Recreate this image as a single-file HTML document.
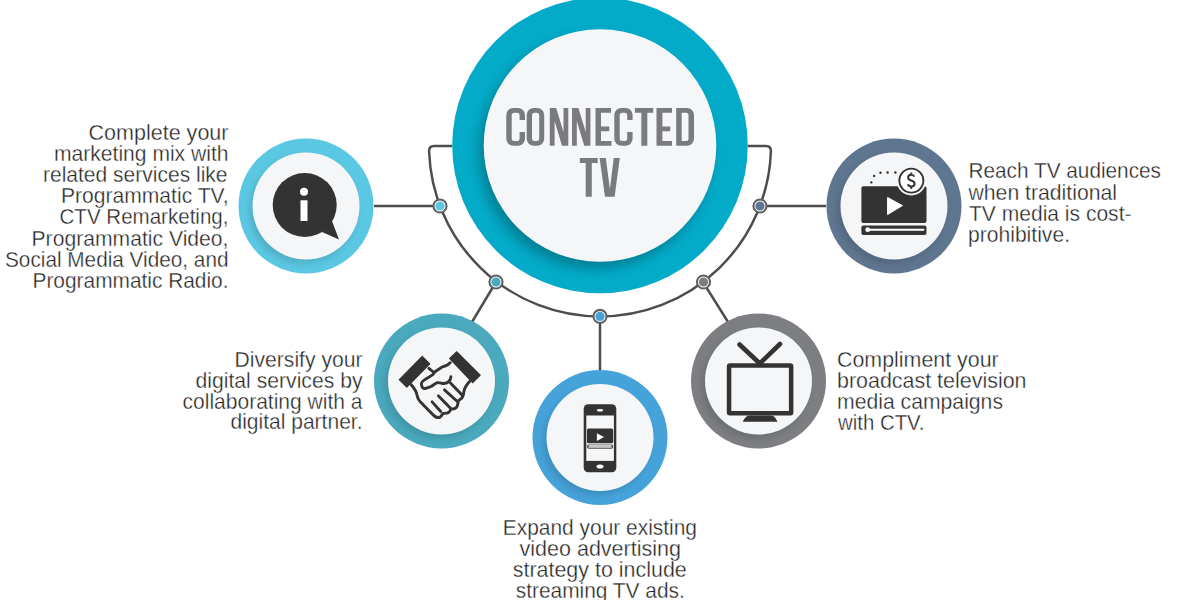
<!DOCTYPE html>
<html><head><meta charset="utf-8">
<style>
html,body{margin:0;padding:0;background:#fff;width:1200px;height:600px;overflow:hidden}
svg{display:block}
.t{font-family:"Liberation Sans",sans-serif;font-size:21.8px;fill:#222;stroke:#fff;stroke-width:0.35px;paint-order:normal}
.h{font-family:"Liberation Sans",sans-serif;font-weight:bold;fill:#7b7c80}
</style></head>
<body>
<svg width="1200" height="600" viewBox="0 0 1200 600">
<defs>
<filter id="sh" x="-30%" y="-30%" width="160%" height="160%">
<feGaussianBlur stdDeviation="3.5"/>
</filter>
<filter id="sh2" x="-30%" y="-30%" width="160%" height="160%">
<feGaussianBlur stdDeviation="6"/>
</filter>
<linearGradient id="pg" x1="0" y1="0" x2="0" y2="1"><stop offset="0" stop-color="#d8d8d8"/><stop offset="1" stop-color="#aaa"/></linearGradient>
</defs>

<!-- connector lines -->
<g fill="none" stroke="#4d4d4f" stroke-width="2.5">
<path d="M452,146 H434 Q429.1,146 429.09,151 A171,171 0 0 0 770.91,151 Q770.9,146 766,146 H748"/>
<line x1="374" y1="206" x2="440" y2="206"/>
<line x1="760" y1="206" x2="826" y2="206"/>
<line x1="496" y1="282" x2="472" y2="322"/>
<line x1="703" y1="282" x2="728" y2="322"/>
<line x1="600" y1="316" x2="600" y2="370"/>
</g>

<!-- central circle -->
<circle cx="600" cy="145.5" r="147.8" fill="#03abc8"/>
<circle cx="595" cy="152.5" r="116.3" fill="#000" opacity="0.25" filter="url(#sh2)"/>
<circle cx="600" cy="145.5" r="116.3" fill="#f5f6f8"/>
<g fill="#7a7b7f" fill-rule="evenodd">
<!-- C -->
<path d="M525,120 V114.9 A7,7 0 0 0 518,107.9 H513.25 A7,7 0 0 0 506.25,114.9 V138.8 A7,7 0 0 0 513.25,145.8 H518 A7,7 0 0 0 525,138.8 V132 H519.6 V138.5 A2.5,2.5 0 0 1 517.1,141 H514.2 A2.5,2.5 0 0 1 511.7,138.5 V115.2 A2.5,2.5 0 0 1 514.2,112.7 H517.1 A2.5,2.5 0 0 1 519.6,115.2 V120 Z"/>
<!-- O -->
<path d="M533.7,107.9 H537.2 A7,7 0 0 1 544.2,114.9 V138.8 A7,7 0 0 1 537.2,145.8 H533.7 A7,7 0 0 1 526.7,138.8 V114.9 A7,7 0 0 1 533.7,107.9 Z M534.5,112.7 A2.5,2.5 0 0 0 532,115.2 V138.5 A2.5,2.5 0 0 0 534.5,141 H536.7 A2.5,2.5 0 0 0 539.2,138.5 V115.2 A2.5,2.5 0 0 0 536.7,112.7 Z"/>
<!-- N -->
<path d="M549.8,107.9 H556.2 L563.5,132 V107.9 H568.3 V145.8 H562 L554.6,121 V145.8 H549.8 Z"/>
<path d="M572,107.9 H578.4 L585.7,132 V107.9 H590.4 V145.8 H584.2 L576.8,121 V145.8 H572 Z"/>
<!-- E -->
<path d="M595.5,107.9 H611.1 V112.8 H601 V126.6 H609.25 V131.2 H601 V141.1 H611.5 V145.8 H595.5 Z"/>
<!-- C -->
<path d="M632.6,120 V114.9 A7,7 0 0 0 625.6,107.9 H621.3 A7,7 0 0 0 614.3,114.9 V138.8 A7,7 0 0 0 621.3,145.8 H625.6 A7,7 0 0 0 632.6,138.8 V132 H627.2 V138.5 A2.5,2.5 0 0 1 624.7,141 H622.2 A2.5,2.5 0 0 1 619.7,138.5 V115.2 A2.5,2.5 0 0 1 622.2,112.7 H624.7 A2.5,2.5 0 0 1 627.2,115.2 V120 Z"/>
<!-- T -->
<path d="M634.9,107.9 H653.2 V112.8 H647.3 V145.8 H641.3 V112.8 H634.9 Z"/>
<!-- E -->
<path d="M656.5,107.9 H672 V112.8 H662.4 V126.6 H670.2 V131.2 H662.4 V141.1 H672 V145.8 H656.5 Z"/>
<!-- D -->
<path d="M676.2,107.9 H687 A7,7 0 0 1 694,114.9 V138.8 A7,7 0 0 1 687,145.8 H676.2 Z M681.7,112.8 V141 H686 A2.5,2.5 0 0 0 688.5,138.5 V115.3 A2.5,2.5 0 0 0 686,112.8 Z"/>
<!-- T -->
<path d="M579.8,157.9 H597.7 V162.9 H591.8 V196.7 H585.7 V162.9 H579.8 Z"/>
<!-- V -->
<path d="M599.6,157.9 H605.8 L609.9,189 L613.75,157.9 H619.8 L614.6,196.7 H605 Z"/>
</g>

<!-- icon circles -->
<g>
<circle cx="306" cy="206" r="67.5" fill="#5bc8e3"/>
<circle cx="303" cy="210" r="53.5" fill="#000" opacity="0.13" filter="url(#sh)"/>
<circle cx="306" cy="206" r="53.5" fill="#f5f6f8"/>

<circle cx="441.5" cy="381" r="67.5" fill="#4aa9bd"/>
<circle cx="438.5" cy="385" r="53.5" fill="#000" opacity="0.13" filter="url(#sh)"/>
<circle cx="441.5" cy="381" r="53.5" fill="#f5f6f8"/>

<circle cx="600" cy="437.5" r="67.5" fill="#46a3da"/>
<circle cx="597" cy="441.5" r="53.5" fill="#000" opacity="0.13" filter="url(#sh)"/>
<circle cx="600" cy="437.5" r="53.5" fill="#f5f6f8"/>

<circle cx="758.5" cy="381" r="67.5" fill="#7d7e82"/>
<circle cx="755.5" cy="385" r="53.5" fill="#000" opacity="0.13" filter="url(#sh)"/>
<circle cx="758.5" cy="381" r="53.5" fill="#f5f6f8"/>

<circle cx="894" cy="206" r="67.5" fill="#5f7690"/>
<circle cx="891" cy="210" r="53.5" fill="#000" opacity="0.13" filter="url(#sh)"/>
<circle cx="894" cy="206" r="53.5" fill="#f5f6f8"/>
</g>

<!-- nodes -->
<g stroke="#5f6063" stroke-width="2.1" fill="#fff">
<circle cx="440" cy="206" r="6.55"/>
<circle cx="496" cy="282" r="6.55"/>
<circle cx="600" cy="316.4" r="6.55"/>
<circle cx="703.5" cy="282" r="6.55"/>
<circle cx="760" cy="206" r="6.55"/>
</g>
<circle cx="440" cy="206" r="4.6" fill="#5bc8e3"/>
<circle cx="496" cy="282" r="4.6" fill="#4aa9bd"/>
<circle cx="600" cy="316.4" r="4.6" fill="#46a3da"/>
<circle cx="703.5" cy="282" r="4.6" fill="#7d7e82"/>
<circle cx="760" cy="206" r="4.6" fill="#5f7690"/>

<!-- info icon -->
<g fill="#333">
<circle cx="304.7" cy="205" r="32"/>
<path d="M322,232 L339,239.5 L332,221 Z"/>
</g>
<circle cx="304" cy="191.7" r="4" fill="#fff"/>
<rect x="300.5" y="200.3" width="7" height="20.7" fill="#fff"/>

<!-- handshake icon placeholder -->
<g id="hand">
<path d="M399.3,379.7 L422.25,356.3 L429.75,363.8 L406.8,387.2 Z" fill="#333" stroke="#333" stroke-width="1.2" stroke-linejoin="round"/>
<path d="M449.75,358.5 L456.8,351.8 L480.2,375.2 L472.7,382.7 Z" fill="#333" stroke="#333" stroke-width="1.2" stroke-linejoin="round"/>
<g fill="none" stroke="#333" stroke-width="2.9" stroke-linecap="round" stroke-linejoin="round">
<path d="M411,384.5 C414,388 416.5,391 417,395 C417.5,398 418,399.5 420,401.5 L432.5,414.2 C435,417 437,418 439.2,417.6 C441,417 442,414.5 443,413.5 C445,413.3 447,413.5 448.5,412.5 C450,411.5 450.5,410 451,409 C453,409.2 455.5,409 457,406.5 C458,404.5 458.2,402 458.4,400.7 C460,399.5 461.5,399 462.5,397 C463.5,395 463.8,393 464,391 C464.5,388.5 465.5,386 469.5,381.5"/>
<path d="M428.9,368.4 L433,371.75"/>
<path d="M450.2,362.7 C448.5,364 447.5,365 446,365.6 C444,366.5 442.5,366.7 441,367.7 C439,369 437.5,370 436,371 C434.5,372 433.5,374 432.7,374.7 C430.5,376.5 428,377.5 426,378.8 C424,380 422,381 421.5,383 C421,386 422.5,389 425,388.5 C427.5,388 429,387.5 431,386.5 C433,385.5 435,383.5 437,382.75 C439.5,382 441.5,383.5 443.75,383.5 C446,383.3 448,382.5 449,381.25 C450.5,379.5 450.9,378 450.9,376.75"/>
<path d="M432.1,401.9 L440.75,411.5"/>
<path d="M438.5,395.9 L450.5,408.25"/>
<path d="M444.5,389.9 L457.25,401.5"/>
<path d="M450.5,383.1 L462.5,395.5"/>
</g>
</g>

<!-- phone icon -->
<g>
<rect x="583.7" y="404.2" width="32.6" height="68" rx="4.5" fill="#333"/>
<rect x="586.3" y="415.5" width="27.6" height="45.4" fill="#f5f6f8"/>
<ellipse cx="600" cy="410.2" rx="3.2" ry="1.3" fill="#fff"/>
<ellipse cx="600" cy="466.5" rx="3.5" ry="2.1" fill="#fff"/>
<rect x="587" y="428.6" width="26.2" height="14.6" rx="1.5" fill="#333"/>
<path d="M596.9,433.2 L596.9,441 L604,437 Z" fill="#fff"/>
<rect x="587" y="444.3" width="26.2" height="4.6" rx="2.3" fill="#444"/><rect x="588.6" y="444.6" width="23" height="4" rx="1" fill="url(#pg)"/>
</g>

<!-- tv icon -->
<g>
<rect x="729.05" y="365.55" width="62.1" height="47.7" rx="1" fill="none" stroke="#333" stroke-width="4.5"/>
<path d="M739.5,344.5 L759.8,363.5 L780,344" fill="none" stroke="#333" stroke-width="4.6" stroke-linecap="round"/>
<path d="M749,415.5 H771.5 Q775,416 777.5,421.8 H742.7 Q745.5,416 749,415.5 Z" fill="#333"/>
</g>

<!-- video $ icon -->
<g>
<rect x="861.4" y="186.2" width="65.1" height="36.8" rx="2" fill="#333"/>
<rect x="861.4" y="225.4" width="65.1" height="9.6" rx="2" fill="#333"/>
<rect x="865.6" y="228.7" width="58.8" height="2.1" rx="1" fill="#fff"/>
<circle cx="867.7" cy="229.7" r="2.4" fill="#fff"/>
<path d="M887.6,197.5 L887.6,214.5 L902.4,205.6 Z" fill="#fff" stroke="#fff" stroke-width="1" stroke-linejoin="round"/>
<circle cx="911.35" cy="180.6" r="14.8" fill="#f5f6f8"/>
<circle cx="911.35" cy="180.6" r="12" fill="#fff" stroke="#333" stroke-width="1.9"/>
<path d="M914.3,176.6 C913.8,175.3 912.8,174.7 911.3,174.7 C909.4,174.7 908.1,175.7 908.1,177.4 C908.1,179.3 909.8,180 911.3,180.5 C913,181 914.6,181.8 914.6,183.7 C914.6,185.5 913.2,186.5 911.3,186.5 C909.5,186.5 908.3,185.7 907.9,184.3 M911.3,172.6 V174.8 M911.3,186.4 V188.9" fill="none" stroke="#333" stroke-width="2" stroke-linecap="butt"/>
<g fill="#333">
<circle cx="874.1" cy="175.9" r="1.2"/>
<circle cx="880.5" cy="172.7" r="1.2"/>
<circle cx="887.6" cy="172.5" r="1.2"/>
<circle cx="895.4" cy="172.5" r="1.2"/>
<circle cx="871.3" cy="182.4" r="1.2"/>
</g>
</g>

<!-- texts -->
<g class="t">
<text x="228.50" y="139.70" text-anchor="end" textLength="140.00" lengthAdjust="spacingAndGlyphs">Complete your</text>
<text x="228.50" y="160.70" text-anchor="end" textLength="174.50" lengthAdjust="spacingAndGlyphs">marketing mix with</text>
<text x="227.50" y="181.70" text-anchor="end" textLength="184.50" lengthAdjust="spacingAndGlyphs">related services like</text>
<text x="228.50" y="202.70" text-anchor="end" textLength="167.50" lengthAdjust="spacingAndGlyphs">Programmatic TV,</text>
<text x="228.50" y="224.20" text-anchor="end" textLength="169.00" lengthAdjust="spacingAndGlyphs">CTV Remarketing,</text>
<text x="228.50" y="245.70" text-anchor="end" textLength="197.00" lengthAdjust="spacingAndGlyphs">Programmatic Video,</text>
<text x="228.50" y="266.70" text-anchor="end" textLength="223.50" lengthAdjust="spacingAndGlyphs">Social Media Video, and</text>
<text x="228.50" y="287.70" text-anchor="end" textLength="196.00" lengthAdjust="spacingAndGlyphs">Programmatic Radio.</text>
<text x="362.50" y="367.40" text-anchor="end" textLength="128.00" lengthAdjust="spacingAndGlyphs">Diversify your</text>
<text x="362.50" y="388.20" text-anchor="end" textLength="167.00" lengthAdjust="spacingAndGlyphs">digital services by</text>
<text x="362.50" y="409.00" text-anchor="end" textLength="180.00" lengthAdjust="spacingAndGlyphs">collaborating with a</text>
<text x="362.50" y="429.00" text-anchor="end" textLength="132.00" lengthAdjust="spacingAndGlyphs">digital partner.</text>
<text x="599.88" y="534.70" text-anchor="middle" textLength="194.25" lengthAdjust="spacingAndGlyphs">Expand your existing</text>
<text x="600.25" y="555.70" text-anchor="middle" textLength="161.50" lengthAdjust="spacingAndGlyphs">video advertising</text>
<text x="599.75" y="576.70" text-anchor="middle" textLength="174.00" lengthAdjust="spacingAndGlyphs">strategy to include</text>
<text x="600.25" y="597.70" text-anchor="middle" textLength="169.00" lengthAdjust="spacingAndGlyphs">streaming TV ads.</text>
<text x="968.50" y="178.10" text-anchor="start" textLength="192.50" lengthAdjust="spacingAndGlyphs">Reach TV audiences</text>
<text x="968.50" y="199.70" text-anchor="start" textLength="148.50" lengthAdjust="spacingAndGlyphs">when traditional</text>
<text x="969.00" y="221.30" text-anchor="start" textLength="162.50" lengthAdjust="spacingAndGlyphs">TV media is cost-</text>
<text x="968.00" y="241.90" text-anchor="start" textLength="102.00" lengthAdjust="spacingAndGlyphs">prohibitive.</text>
<text x="837.00" y="367.45" text-anchor="start" textLength="161.75" lengthAdjust="spacingAndGlyphs">Compliment your</text>
<text x="837.00" y="388.45" text-anchor="start" textLength="189.50" lengthAdjust="spacingAndGlyphs">broadcast television</text>
<text x="837.00" y="409.45" text-anchor="start" textLength="166.00" lengthAdjust="spacingAndGlyphs">media campaigns</text>
<text x="838.00" y="430.45" text-anchor="start" textLength="86.50" lengthAdjust="spacingAndGlyphs">with CTV.</text>
</g>
</svg>
</body></html>
